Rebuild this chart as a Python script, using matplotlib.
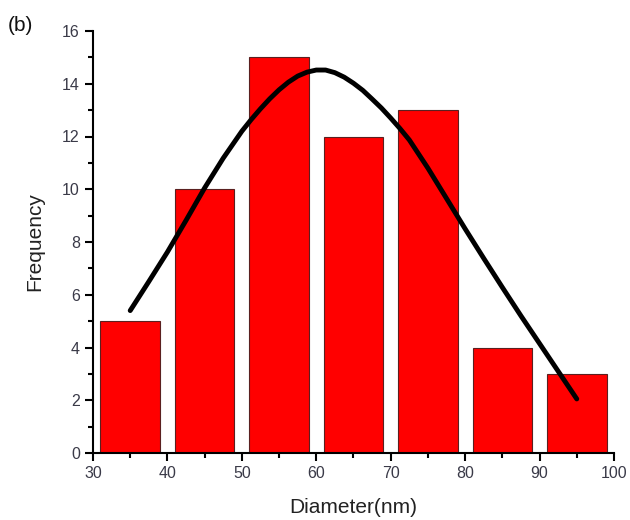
import numpy as np
import matplotlib.pyplot as plt
from matplotlib.ticker import MultipleLocator

plt.rcParams['font.family'] = ['Liberation Sans', 'DejaVu Sans']

# histogram bins (centre, count)
bin_centres = [35, 45, 55, 65, 75, 85, 95]
counts = [5, 10, 15, 12, 13, 4, 3]
bin_width = 8

# gaussian fit curve
fit_x = [35, 37.5, 40, 42.5, 45, 47.5, 50, 51.25, 52.5, 53.75, 55, 56.25, 57.5, 58.75,
         60, 61.25, 62.5, 63.75, 65, 66.25, 67.5, 68.75, 70, 71.25, 72.5,
         75, 77.5, 80, 82.5, 85, 87.5, 90, 92.5, 95]
fit_y = [5.4, 6.5, 7.62, 8.82, 10.05, 11.18, 12.2, 12.64, 13.05, 13.43, 13.77, 14.06, 14.29, 14.44,
         14.52, 14.52, 14.42, 14.25, 14.02, 13.75, 13.42, 13.08, 12.7, 12.3, 11.87,
         10.8, 9.65, 8.5, 7.38, 6.28, 5.2, 4.15, 3.1, 2.05]

TICK_COLOR = '#3a3a48'


def main():
	fig = plt.figure(figsize=(6.3, 5.2), dpi=100)
	ax = fig.add_axes([0.1476, 0.1288, 0.827, 0.8116])
	ax.bar(bin_centres, counts, width=bin_width, color='#ff0000', edgecolor='#5a2020', linewidth=0.8, zorder=2)
	ax.plot(fit_x, fit_y, color='black', linewidth=3.5, solid_capstyle='round', solid_joinstyle='round', zorder=3)

	ax.set_xlim(30, 100)
	ax.set_ylim(0, 16)
	ax.xaxis.set_major_locator(MultipleLocator(10))
	ax.xaxis.set_minor_locator(MultipleLocator(5))
	ax.yaxis.set_major_locator(MultipleLocator(2))
	ax.yaxis.set_minor_locator(MultipleLocator(1))
	for side in ('top', 'right'):
		ax.spines[side].set_visible(False)
	for side in ('left', 'bottom'):
		ax.spines[side].set_linewidth(1.5)
		ax.spines[side].set_zorder(4)
	ax.tick_params(which='major', direction='out', length=6, width=1.5, labelsize=11.5, labelcolor=TICK_COLOR)
	ax.tick_params(which='minor', direction='out', length=3.5, width=1.5)

	ax.set_xlabel('Diameter(nm)', fontsize=15, color='#222222', labelpad=12)
	ax.set_ylabel('Frequency', fontsize=15, color='#222222', labelpad=13)
	fig.text(0.013, 0.94, '(b)', fontsize=15, color='#111111')

	fig.savefig('out.png', dpi=100)


if __name__ == '__main__':
	main()
